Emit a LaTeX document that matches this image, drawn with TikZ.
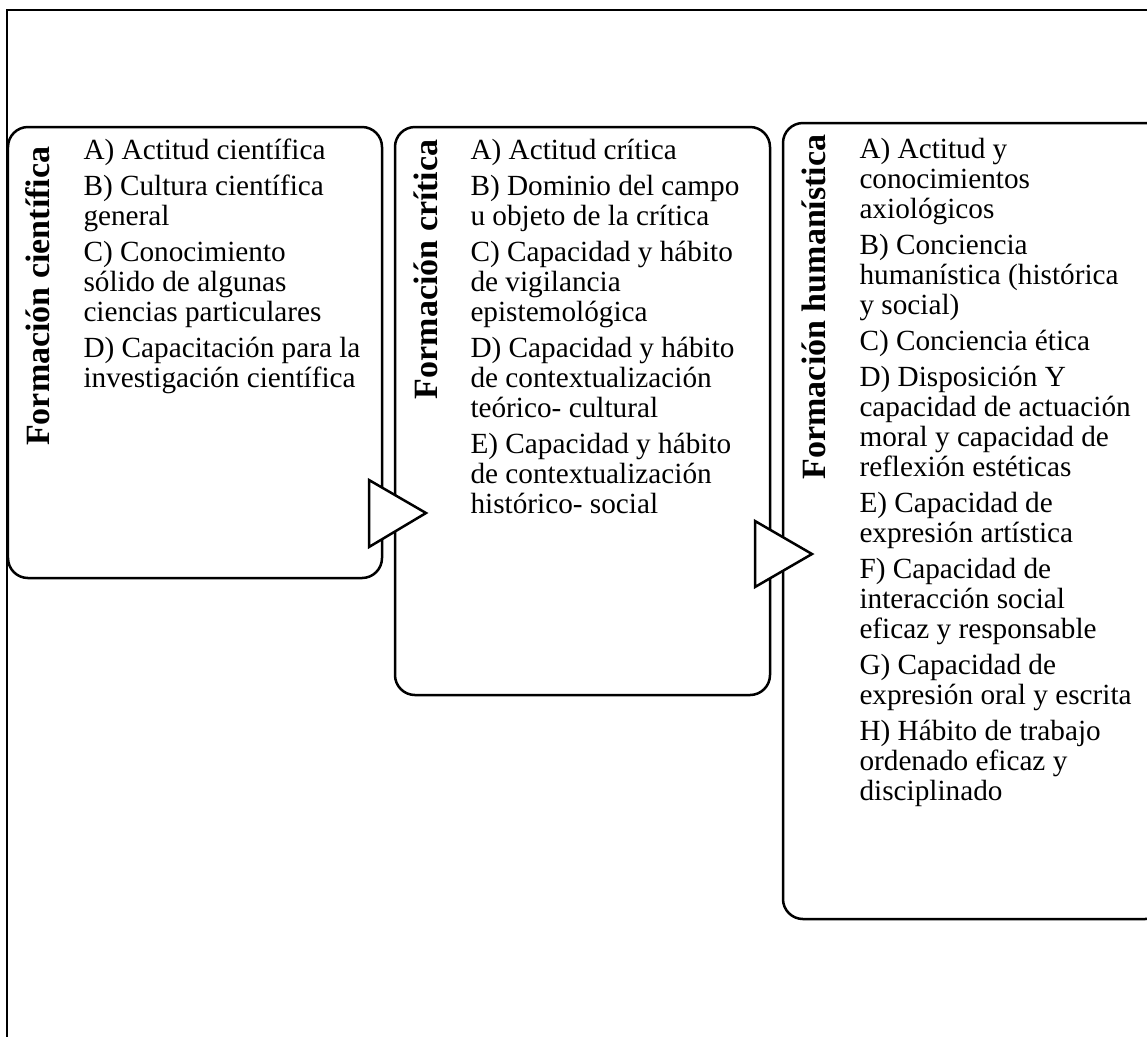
\documentclass[tikz,border=0pt]{standalone}
\usepackage{fontspec}
\setmainfont{Liberation Serif}
\begin{document}
\begin{tikzpicture}[x=0.4pt,y=-0.4pt,
  box/.style={draw, line width=1pt, rounded corners=8pt, inner sep=0pt},
  ttl/.style={rotate=90, anchor=base east, inner sep=0pt, font=\fontsize{13.6pt}{15pt}\selectfont\bfseries},
  body/.style={anchor=north west, align=left, inner sep=0pt, font=\fontsize{11.7pt}{12pt}\selectfont},
  tri/.style={draw, line width=1pt, fill=white, line join=miter}]
\useasboundingbox (0,0) rectangle (1147,1036);
\clip (0,0) rectangle (1147,1036);
\draw[line width=0.6pt] (7,10) rectangle (1180,1070);
\node[box, minimum width=149.6pt, minimum height=180.4pt] (b1) at (195,352.5) {};
\node[box, minimum width=150pt, minimum height=227.2pt] (b2) at (582.5,411) {};
\node[box, minimum width=152.8pt, minimum height=318.4pt] (b3) at (974,521) {};
\draw[tri] (369,480) coordinate (t1a) -- (369,547) coordinate (t1b) -- (426,513) coordinate (t1c) -- cycle;
\draw[tri] (755,521) coordinate (t2a) -- (755,587) coordinate (t2b) -- (812,554) coordinate (t2c) -- cycle;
\node[ttl] (h1) at (50,146) {Formación científica};
\node[ttl] (h2) at (437,139) {Formación crítica};
\node[ttl] (h3) at (825,134) {Formación humanística};
\node[body] (l1) at (83,138) {\strut A) Actitud científica\\[2.4pt]
B) Cultura científica\\general\\[2.4pt]
C) Conocimiento\\sólido de algunas\\ciencias particulares\\[2.4pt]
D) Capacitación para la\\investigación científica};
\node[body] (l2) at (470,138) {\strut A) Actitud crítica\\[2.4pt]
B) Dominio del campo\\u objeto de la crítica\\[2.4pt]
C) Capacidad y hábito\\de vigilancia\\epistemológica\\[2.4pt]
D) Capacidad y hábito\\de contextualización\\teórico- cultural\\[2.4pt]
E) Capacidad y hábito\\de contextualización\\histórico- social};
\node[body] (l3) at (859,137) {\strut A) Actitud y\\conocimientos\\axiológicos\\[2.4pt]
B) Conciencia\\humanística (histórica\\y social)\\[2.4pt]
C) Conciencia ética\\[2.4pt]
D) Disposición Y\\capacidad de actuación\\moral y capacidad de\\reflexión estéticas\\[2.4pt]
E) Capacidad de\\expresión artística\\[2.4pt]
F) Capacidad de\\interacción social\\eficaz y responsable\\[2.4pt]
G) Capacidad de\\expresión oral y escrita\\[2.4pt]
H) Hábito de trabajo\\ordenado eficaz y\\disciplinado};
\end{tikzpicture}
\end{document}
